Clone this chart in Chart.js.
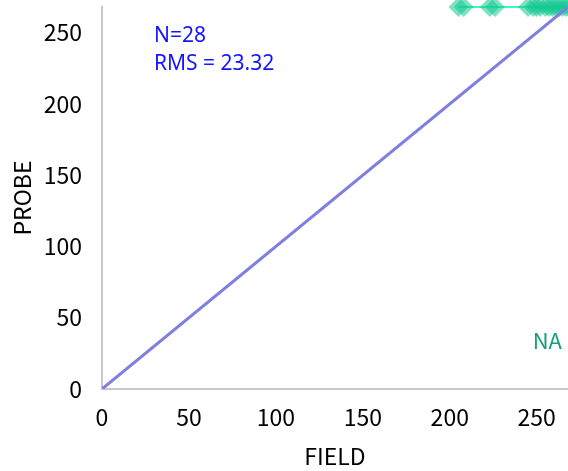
<!DOCTYPE html>
<html>
<head>
<meta charset="utf-8">
<script src="https://cdn.jsdelivr.net/npm/chart.js@4"></script>
<style>
  html, body { margin: 0; padding: 0; background: #fff; }
  #wrap { width: 568px; height: 471px; }
</style>
</head>
<body>
<div id="wrap"><canvas id="probeChart"></canvas></div>
<script>
// data
const fieldValues = [205, 208, 223, 226, 245, 248, 250, 252, 255, 257, 259, 261, 263, 265, 267, 269];
const probeValues = [268, 268, 268, 268, 268, 268, 268, 268, 268, 268, 268, 268, 268, 268, 268, 268];
const oneToOneX = [0, 300];
const oneToOneY = [0, 300];
const axisTicks = [0, 50, 100, 150, 200, 250];
const statLines = ["N=28", "RMS = 23.32"];
const missingLabel = "NA";

const tickFont = "'Noto Sans CJK JP', 'Noto Sans', sans-serif";

// extra text drawn on top of the plot
const textPlugin = {
    id: 'statText',
    afterDraw(chart) {
        const ctx = chart.ctx;
        ctx.save();
        ctx.fillStyle = '#1414ff';
        ctx.font = "21px 'Noto Sans', sans-serif";
        ctx.textBaseline = 'alphabetic';
        ctx.textAlign = 'left';
        ctx.fillText(statLines[0], 154, 42);
        ctx.fillText(statLines[1], 154, 70);

        ctx.fillStyle = '#16a078';
        ctx.font = "22px " + tickFont;
        ctx.textAlign = 'right';
        ctx.fillText(missingLabel, 562, 349);
        ctx.restore();
    }
};

// keep the plot edges where the picture has them
function noEdgePadding(scale) {
    scale.paddingTop = 0;
    scale.paddingBottom = 0;
    scale.paddingLeft = 0;
    scale.paddingRight = 0;
}

const ctx = document.getElementById('probeChart').getContext('2d');
new Chart(ctx, {
    type: 'scatter',
    data: {
        datasets: [
            {
                label: '1:1',
                data: oneToOneX.map((x, i) => ({ x: x, y: oneToOneY[i] })),
                showLine: true,
                borderColor: '#7f7fe0',
                borderWidth: 3,
                pointRadius: 0,
                fill: false
            },
            {
                label: 'NA',
                data: fieldValues.map((x, i) => ({ x: x, y: probeValues[i] })),
                showLine: true,
                borderColor: '#3cf5c8',
                borderWidth: 2,
                backgroundColor: 'rgba(20, 200, 145, 0.55)',
                pointBorderWidth: 0,
                pointStyle: 'rectRot',
                pointRadius: 10,
                clip: false
            }
        ]
    },
    options: {
        responsive: true,
        maintainAspectRatio: false,
        animation: false,
        layout: { autoPadding: false, padding: { top: 7, right: 0, left: 0, bottom: 0 } },
        plugins: {
            legend: { display: false },
            tooltip: { enabled: false }
        },
        scales: {
            x: {
                type: 'linear',
                min: 0,
                max: 268,
                afterBuildTicks: (scale) => { scale.ticks = axisTicks.map(v => ({ value: v })); },
                afterFit: (scale) => { scale.height = 82; noEdgePadding(scale); },
                grid: { display: false, drawTicks: false },
                border: { display: true, color: '#c8c8c8', width: 2 },
                ticks: { color: '#000', padding: 14, font: { family: tickFont, size: 23 }, maxRotation: 0 },
                title: {
                    display: true,
                    text: 'FIELD',
                    color: '#000',
                    font: { family: tickFont, size: 23 },
                    padding: { top: 0, bottom: 1 }
                }
            },
            y: {
                type: 'linear',
                min: 0,
                max: 268,
                afterBuildTicks: (scale) => { scale.ticks = axisTicks.map(v => ({ value: v })); },
                afterFit: (scale) => { scale.width = 102; noEdgePadding(scale); },
                grid: { display: false, drawTicks: false },
                border: { display: true, color: '#c8c8c8', width: 2 },
                ticks: { color: '#000', padding: 20, font: { family: tickFont, size: 23 } },
                title: {
                    display: true,
                    text: 'PROBE',
                    color: '#000',
                    font: { family: tickFont, size: 23 },
                    padding: { top: 8, bottom: 0 }
                }
            }
        }
    },
    plugins: [textPlugin]
});
</script>
</body>
</html>
